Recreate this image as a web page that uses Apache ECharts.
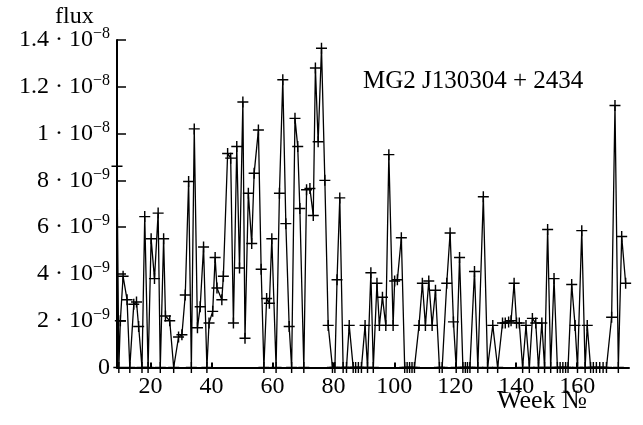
<!DOCTYPE html>
<html>
<head>
<meta charset="utf-8">
<script src="https://cdn.jsdelivr.net/npm/echarts@6/dist/echarts.min.js"></script>
<style>html,body{margin:0;padding:0;background:#fff}#c{width:643px;height:425px}</style>
</head>
<body>
<div id="c"></div>
<script>
// Week numbers and flux in units of 1e-9
const weeks = [9.0,9.6,10.1,11.0,12.3,13.2,14.5,15.4,16.1,17.2,18.1,19.2,20.2,21.3,22.5,23.2,24.3,24.9,26.3,27.6,29.2,30.3,31.4,32.5,33.4,34.35,35.4,36.3,37.4,38.5,39.2,40.4,41.2,41.8,43.4,43.9,45.3,46.3,47.2,48.3,49.2,50.3,51.0,52.1,53.2,54.0,55.4,56.3,57.2,58.1,59.0,59.8,61.2,62.3,63.4,64.4,65.5,66.3,67.4,68.3,69.0,70.3,71.2,72.3,73.4,74.1,75.0,76.1,77.2,78.3,79.7,80.5,81.2,82.1,83.2,84.3,85.2,86.5,87.3,88.2,89.2,90.4,91.2,92.3,93.1,94.3,95.1,96.1,97.2,98.2,99.6,100.1,101.0,102.3,103.4,104.2,105.0,105.8,106.6,108.1,109.2,110.2,111.3,112.4,113.5,114.8,115.7,117.2,118.3,119.4,120.3,121.4,122.5,123.3,124.0,124.8,126.3,127.4,129.2,130.6,132.3,133.9,135.5,136.4,137.5,138.3,139.3,140.1,141.0,142.1,143.2,144.3,145.3,146.4,147.3,148.4,149.3,150.3,151.3,152.4,153.5,154.4,155.3,156.2,157.0,158.2,159.3,160.1,161.5,162.6,163.3,164.4,165.3,166.3,167.4,168.5,169.6,171.3,172.4,173.5,174.6,175.9];
const fluxE9 = [8.6,0,2.0,3.9,2.9,0,2.7,2.8,1.75,0,6.45,0,5.5,3.8,6.6,0,5.5,2.2,2.0,0,1.3,1.4,3.1,7.95,0,10.2,1.7,2.6,5.15,0,1.9,2.4,4.7,3.4,2.9,3.9,9.15,8.95,1.9,9.45,4.25,11.35,1.25,7.45,5.3,8.3,10.15,4.2,0,2.95,2.75,5.5,0,7.45,12.3,6.15,1.75,0,10.65,9.45,6.8,0,7.6,7.65,6.5,12.8,9.65,13.65,8.0,1.8,0,0,3.75,7.25,0,0,1.8,0,0,0,0,1.8,0,4.05,0,3.6,1.8,3.0,1.8,9.1,1.8,3.7,3.75,5.55,0,0,0,0,0,1.8,3.6,1.8,3.7,1.8,3.3,0,0,3.6,5.75,1.95,0,4.7,0,0,0,0,4.1,0,7.3,0,1.8,0,1.9,1.9,1.95,2.0,3.6,1.9,1.9,0,1.8,0,2.1,1.9,0,1.9,0,5.9,0,3.8,0,0,0,0,0,3.55,1.8,0,5.85,0,1.8,0,0,0,0,0,0,2.15,11.2,0,5.6,3.6];
const xTicks = [20,40,60,80,100,120,140,160];
const yTicks = [0,2,4,6,8,10,12,14];

const FONT = '"Liberation Serif","DejaVu Serif",serif';
const chart = echarts.init(document.getElementById('c'), null, {renderer:'canvas'});
const data = weeks.map((w,i)=>[w, fluxE9[i]]);
function yLabel(v){
  if (v === 0) return '0';
  if (v < 10) return v + ' · 10{s|−9}';
  return (v/10) + ' · 10{s|−8}';
}
chart.setOption({
  animation:false,
  backgroundColor:'#fff',
  grid:{left:117, right:14, top:40, bottom:57.5, containLabel:false},
  xAxis:{
    type:'value', min:9, max:177,
    axisLine:{show:true, lineStyle:{color:'#000', width:2}},
    axisTick:{show:true, inside:true, length:5, lineStyle:{color:'#000', width:2}, customValues:xTicks},
    axisLabel:{show:true, customValues:xTicks, color:'#000', fontSize:24, fontFamily:FONT, margin:7},
    splitLine:{show:false}
  },
  yAxis:{
    type:'value', min:0, max:14, interval:2,
    axisLine:{show:true, lineStyle:{color:'#000', width:2}},
    axisTick:{show:true, inside:true, length:9, lineStyle:{color:'#000', width:1.5}, customValues:yTicks},
    axisLabel:{show:true, customValues:yTicks, formatter:yLabel, color:'#000', fontSize:24, fontFamily:FONT, margin:7,
      rich:{s:{fontSize:16, fontFamily:FONT, color:'#000', padding:[0,0,12,0], verticalAlign:'bottom'}}},
    splitLine:{show:false}
  },
  series:[{
    type:'line', data:data, clip:false,
    lineStyle:{color:'#000', width:1.3},
    symbol:'path://M4.35,0H5.65V4.35H10V5.65H5.65V10H4.35V5.65H0V4.35H4.35Z',
    symbolSize:11, showAllSymbol:true,
    itemStyle:{color:'#000'}
  }],
  graphic:[
    {type:'text', left:55, top:5, style:{text:'flux', font:'24px '+FONT, fill:'#000'}},
    {type:'text', left:363, top:69, style:{text:'MG2 J130304 + 2434', font:'25px '+FONT, fill:'#000'}},
    {type:'text', left:497, top:388, style:{text:'Week №', font:'26px '+FONT, fill:'#000'}}
  ]
});
</script>
</body>
</html>
